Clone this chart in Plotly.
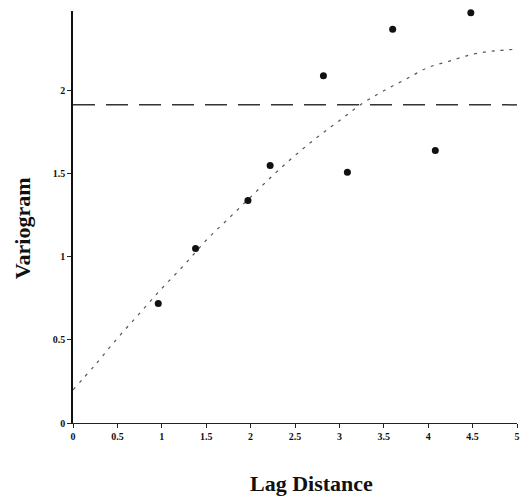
import plotly.graph_objects as go

# Experimental variogram points (lag distance, semivariance)
lag = [0.96, 1.38, 1.97, 2.22, 2.82, 3.09, 3.60, 4.08, 4.48]
gamma = [0.72, 1.05, 1.34, 1.55, 2.09, 1.51, 2.37, 1.64, 2.47]

# Fitted model curve
model_x = [0, 0.25, 0.5, 0.75, 1.0, 1.25, 1.5, 1.75, 2.0, 2.25, 2.5,
           2.75, 3.0, 3.25, 3.5, 3.75, 4.0, 4.25, 4.5, 4.75, 5.0]
model_y = [0.20, 0.35, 0.51, 0.66, 0.81, 0.95, 1.10, 1.23, 1.36, 1.49, 1.61,
           1.72, 1.82, 1.92, 2.00, 2.07, 2.14, 2.18, 2.22, 2.24, 2.25]

# Sample variance (horizontal dashed line)
sill_x = [0, 5]
sill_y = [1.915, 1.915]

x_ticks = [0, 0.5, 1, 1.5, 2, 2.5, 3, 3.5, 4, 4.5, 5]
x_tick_labels = ["0", "0.5", "1", "1.5", "2", "2.5", "3", "3.5", "4", "4.5", "5"]
y_ticks = [0, 0.5, 1, 1.5, 2]
y_tick_labels = ["0", "0.5", "1", "1.5", "2"]

serif = "Liberation Serif, Times New Roman, serif"

W, H = 525, 498
ML, MR, MT, MB = 73, 5, 11, 75

fig = go.Figure()
fig.add_trace(go.Scatter(x=sill_x, y=sill_y, mode="lines",
                         line=dict(color="#333333", width=1.5, dash="22px,11px"),
                         hoverinfo="skip", showlegend=False))
fig.add_trace(go.Scatter(x=model_x, y=model_y, mode="lines",
                         line=dict(color="#555555", width=1.2, dash="3px,6px", shape="spline"),
                         hoverinfo="skip", showlegend=False))
fig.add_trace(go.Scatter(x=lag, y=gamma, mode="markers",
                         marker=dict(color="#111111", size=7),
                         showlegend=False, cliponaxis=False))

plot_w = W - ML - MR
plot_h = H - MT - MB

fig.update_layout(
    width=W, height=H,
    margin=dict(l=ML, r=MR, t=MT, b=MB),
    plot_bgcolor="white", paper_bgcolor="white",
    font=dict(family=serif, color="#111111"),
    xaxis=dict(range=[0, 5], tickvals=x_ticks, ticktext=x_tick_labels,
               showgrid=False, zeroline=False, showline=True,
               linecolor="#222222", linewidth=1,
               ticks="outside", ticklen=4, tickcolor="#222222",
               tickfont=dict(family=serif, size=10, color="#111111", weight="bold"),
               fixedrange=True),
    yaxis=dict(range=[0, 2.48], tickvals=y_ticks, ticktext=y_tick_labels,
               showgrid=False, zeroline=False, showline=True,
               linecolor="#111111", linewidth=1.5,
               ticks="outside", ticklen=4, tickcolor="#222222",
               tickfont=dict(family=serif, size=10, color="#111111", weight="bold"),
               fixedrange=True),
    annotations=[
        dict(text="<b>Lag Distance</b>", xref="paper", yref="paper",
             x=(313 - ML) / plot_w, y=(H - MB - 483) / plot_h,
             xanchor="center", yanchor="middle",
             showarrow=False, font=dict(family=serif, size=22, color="#111111")),
        dict(text="<b>Variogram</b>", xref="paper", yref="paper",
             x=(22 - ML) / plot_w, y=(H - MB - 228) / plot_h,
             xanchor="center", yanchor="middle",
             showarrow=False, textangle=-90,
             font=dict(family=serif, size=22, color="#111111")),
    ],
)

fig.write_html("out.html",
               config={"displayModeBar": False},
               post_script="document.body.style.margin='0';document.body.style.overflow='hidden';")
